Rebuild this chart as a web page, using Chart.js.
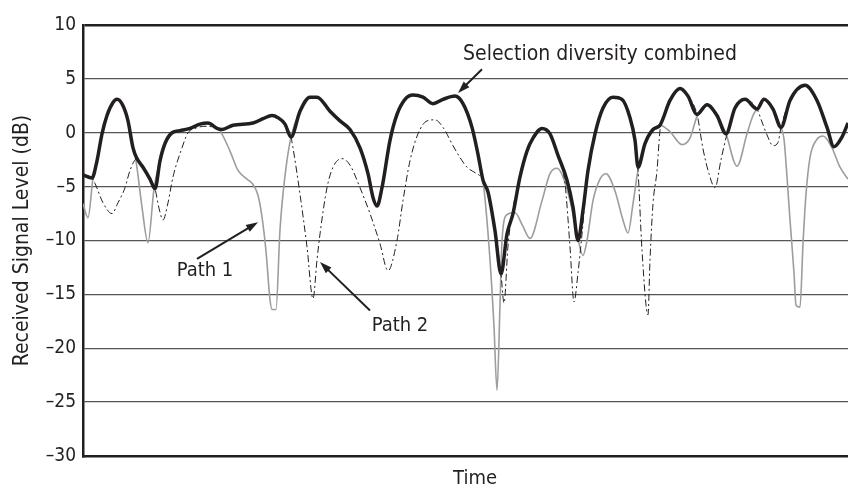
<!DOCTYPE html>
<html>
<head>
<meta charset="utf-8">
<script src="https://cdn.jsdelivr.net/npm/chart.js@4.4.0/dist/chart.umd.min.js"></script>
<style>
  html, body { margin: 0; padding: 0; background: #fff; overflow: hidden; }
  #wrap { width: 867px; height: 491px; }
</style>
</head>
<body>
<div id="wrap"><canvas id="chart" width="867" height="491"></canvas></div>
<script>
// time samples (arbitrary units) and levels in dB
var combinedT = [0, 9, 14, 19, 24, 30, 34, 40, 45, 50, 54, 60, 67, 72, 77, 82, 89, 97, 107, 117, 125, 134, 139, 150, 170, 180, 189, 195, 202, 208,
    217, 227, 234, 247, 257, 267, 277, 285, 290, 294, 299, 307, 314, 322, 330, 340, 350, 360, 372, 380, 389, 395, 400, 405, 412, 418,
    424, 430, 437, 444, 450, 459, 467, 475, 484, 490, 495, 500, 505, 512, 520, 530, 539, 547, 552, 555, 562, 570, 577, 587, 597, 605,
    614, 624, 634, 643, 652, 662, 674, 681, 690, 698, 707, 722, 734, 744, 751, 759, 765];
var combinedDb = [-3.9, -4.2, -2.6, -0.1, 1.6, 2.8, 3.1, 2.5, 1.1, -1.4, -2.4, -3.2, -4.3, -5.2, -2.6, -1.0, 0, 0.2, 0.4, 0.8, 0.9, 0.4, 0.3, 0.7, 0.9, 1.3, 1.6, 1.4, 0.8, -0.4,
    2.0, 3.3, 3.3, 2.0, 1.1, 0.3, -1.4, -3.8, -6.0, -6.8, -5.1, -0.7, 1.7, 3.1, 3.5, 3.3, 2.7, 3.1, 3.4, 2.7, 0.5, -2.0, -4.4, -5.5, -9.1, -13.1,
    -9.4, -7.5, -4.1, -1.7, -0.5, 0.4, -0.1, -2.1, -4.4, -6.9, -10.0, -7.2, -3.5, -0.1, 2.3, 3.3, 3.1, 1.4, -0.7, -3.2, -1.0, 0.3, 0.7, 3.0, 4.1, 3.4,
    1.7, 2.6, 1.6, -0.1, 2.3, 3.1, 2.2, 3.1, 2.2, 0.5, 3.0, 4.4, 3.0, 0.5, -1.3, -0.4, 0.9];

var path1T = [0, 5, 10, 14, 19, 24, 30, 34, 40, 45, 50, 53, 59, 65, 71, 77, 82, 89, 97, 107, 117, 125, 132, 137, 147, 155, 164, 170, 175, 179,
    183, 187, 189, 193, 197, 202, 208, 217, 227, 234, 247, 257, 267, 277, 285, 290, 294, 299, 307, 314, 322, 330, 340, 350, 360, 372, 380,
    389, 395, 400, 407, 411, 414, 417, 419, 424, 432, 439, 447, 459, 467, 474, 480, 487, 494, 500, 504, 510, 517, 523, 532, 540, 545, 550,
    555, 562, 570, 577, 587, 599, 607, 614, 624, 634, 643, 654, 664, 670, 674, 681, 690, 698, 701, 704, 707, 711, 713, 717, 720, 723, 727,
    734, 740, 749, 757, 765];
var path1Db = [-6.6, -7.9, -4.2, -2.6, -0.1, 1.6, 2.8, 3.1, 2.5, 1.1, -1.4, -2.6, -6.9, -10.2, -5.2, -2.6, -1.0, 0, 0.2, 0.4, 0.8, 0.9, 0.6, 0.2, -1.7, -3.5, -4.3, -4.8, -5.8, -7.8,
    -11, -15.5, -16.4, -16.4, -9, -4, -0.4, 2.0, 3.3, 3.3, 2.0, 1.1, 0.3, -1.4, -3.8, -6.0, -6.8, -5.1, -0.7, 1.7, 3.1, 3.5, 3.3, 2.7, 3.1, 3.4, 2.7,
    0.5, -2.0, -4.4, -11.8, -18, -23.9, -16, -10, -7.6, -7.4, -8.5, -9.8, -6.3, -3.8, -3.3, -4.1, -6.3, -9.4, -11.4, -10, -6.3, -4.3, -3.8, -5.4, -8.1, -9.3, -6.6,
    -3.5, -1.0, 0.3, 0.7, 0.1, -1.1, -0.5, 1.5, 2.6, 1.6, -0.1, -3.1, -0.1, 1.6, 2.2, 3.1, 2.2, 0.5, -0.6, -4.1, -8.1, -13, -16, -16.2, -10.3, -5.7, -2.3,
    -0.6, -0.3, -1.4, -3.2, -4.3];

var path2T = [0, 9, 12, 20, 29, 35, 42, 47, 54, 60, 67, 72, 76, 80, 85, 90, 99, 105, 112, 122, 132, 139, 150, 170, 180, 189, 195, 202, 208, 210,
    217, 224, 230, 234, 237, 244, 250, 259, 267, 277, 287, 297, 305, 314, 320, 327, 335, 344, 352, 360, 370, 377, 384, 392, 397, 400, 405,
    412, 418, 421, 425, 430, 437, 444, 450, 459, 467, 475, 482, 487, 491, 495, 499, 505, 512, 520, 530, 539, 547, 552, 555, 559, 565, 567,
    570, 574, 577, 580, 587, 597, 605, 614, 620, 626, 632, 638, 644, 652, 662, 674, 679, 684, 690, 695, 698, 707, 722, 734, 744, 751, 759, 765];
var path2Db = [-3.9, -4.2, -4.7, -6.5, -7.5, -6.5, -5.1, -3.5, -2.4, -3.2, -4.3, -5.2, -7.0, -8.1, -6.5, -4.1, -1.4, 0, 0.4, 0.6, 0.5, 0.3, 0.7, 0.9, 1.3, 1.6, 1.4, 0.8, -0.4, -1.4,
    -5.7, -10.6, -15.4, -11.8, -9.4, -5.1, -3.2, -2.4, -3.0, -5.1, -7.5, -10.3, -12.8, -10, -6.3, -2.6, -0.1, 1.1, 1.2, 0.5, -1.2, -2.3, -3.2, -3.7, -4.0, -4.4, -5.5,
    -9.1, -13.1, -15.8, -10.5, -7.0, -4.1, -1.7, -0.5, 0.4, -0.1, -2.1, -4.7, -10.6, -15.7, -13, -9.4, -3.5, -0.1, 2.3, 3.3, 3.1, 1.4, -0.7, -3.5, -10.9, -16.9, -11.8,
    -6.6, -3.5, 0.2, 1.2, 3.0, 4.1, 3.4, 1.7, -1.5, -3.8, -5.1, -2.5, -0.1, 2.3, 3.1, 2.2, 1.0, -0.2, -1.2, -0.9, 0.5, 3.0, 4.4, 3.0, 0.5, -1.3, -0.4, 0.9];

var yTicks = [10, 5, 0, -5, -10, -15, -20, -25, -30];

function pts(t, v) {
    return t.map(function (x, i) { return { x: x, y: v[i] }; });
}

var ink = '#231f20';
var fontFam = "'Liberation Sans Narrow', 'DejaVu Sans Condensed', 'Liberation Sans', sans-serif";

// labels and arrows, placed in data units
var notes = {
    id: 'notes',
    afterDatasetsDraw: function (chart) {
        var ctx = chart.ctx, xs = chart.scales.x, ys = chart.scales.y;
        function px(t) { return xs.getPixelForValue(t); }
        function py(v) { return ys.getPixelForValue(v); }
        function arrow(t0, v0, t1, v1) {
            var x0 = px(t0), y0 = py(v0), x1 = px(t1), y1 = py(v1);
            var a = Math.atan2(y1 - y0, x1 - x0);
            ctx.save();
            ctx.strokeStyle = ink;
            ctx.fillStyle = ink;
            ctx.lineWidth = 2;
            ctx.beginPath();
            ctx.moveTo(x0, y0);
            ctx.lineTo(x1 - 8 * Math.cos(a), y1 - 8 * Math.sin(a));
            ctx.stroke();
            ctx.beginPath();
            ctx.moveTo(x1, y1);
            ctx.lineTo(x1 - 12 * Math.cos(a) + 4 * Math.sin(a), y1 - 12 * Math.sin(a) - 4 * Math.cos(a));
            ctx.lineTo(x1 - 12 * Math.cos(a) - 4 * Math.sin(a), y1 - 12 * Math.sin(a) + 4 * Math.cos(a));
            ctx.closePath();
            ctx.fill();
            ctx.restore();
        }
        function label(s, t, v, size) {
            ctx.save();
            ctx.fillStyle = ink;
            ctx.font = size + 'px ' + fontFam;
            ctx.textAlign = 'center';
            ctx.textBaseline = 'middle';
            ctx.fillText(s, px(t), py(v));
            ctx.restore();
        }
        label('Selection diversity combined', 517, 7.3, 21);
        arrow(399, 5.9, 375, 3.7);
        label('Path 1', 122, -12.8, 20);
        arrow(114, -11.7, 175, -8.3);
        label('Path 2', 317, -17.9, 20);
        arrow(287, -16.5, 237, -12);
    }
};

new Chart(document.getElementById('chart'), {
    type: 'line',
    data: {
        datasets: [{
            label: 'Selection diversity combined',
            data: pts(combinedT, combinedDb),
            borderColor: ink,
            borderWidth: 3.5,
            pointRadius: 0,
            cubicInterpolationMode: 'monotone'
        }, {
            label: 'Path 2',
            data: pts(path2T, path2Db),
            borderColor: ink,
            borderWidth: 1,
            borderDash: [7, 3, 2, 3],
            pointRadius: 0,
            cubicInterpolationMode: 'monotone'
        }, {
            label: 'Path 1',
            data: pts(path1T, path1Db),
            borderColor: '#9d9d9d',
            borderWidth: 1.6,
            pointRadius: 0,
            cubicInterpolationMode: 'monotone'
        }]
    },
    options: {
        responsive: false,
        animation: false,
        layout: { padding: { top: 25, right: 0, bottom: 0, left: 0 } },
        plugins: { legend: { display: false }, tooltip: { enabled: false } },
        scales: {
            x: {
                type: 'linear',
                min: 0,
                max: 784,
                afterFit: function (scale) { scale.height = 35; },
                grid: { display: false, drawTicks: false },
                border: { color: ink, width: 2.5 },
                ticks: { display: false },
                title: {
                    display: true,
                    text: 'Time',
                    color: ink,
                    font: { family: fontFam, size: 20 },
                    padding: { top: 0, bottom: 0 }
                }
            },
            y: {
                min: -30,
                max: 10,
                afterBuildTicks: function (scale) {
                    scale.ticks = yTicks.map(function (v) { return { value: v }; });
                },
                afterFit: function (scale) { scale.width = 83; },
                grid: {
                    drawTicks: false,
                    color: function (c) { return c.tick && c.tick.value === 10 ? ink : '#555555'; },
                    lineWidth: function (c) { return c.tick && c.tick.value === 10 ? 2.5 : 1.3; }
                },
                border: { color: ink, width: 2.5 },
                ticks: {
                    color: ink,
                    padding: 7,
                    font: { family: fontFam, size: 19 },
                    callback: function (v) { return v < 0 ? '\u2013' + Math.abs(v) : String(v); }
                },
                title: {
                    display: true,
                    text: 'Received Signal Level (dB)',
                    color: ink,
                    font: { family: fontFam, size: 21 },
                    padding: { top: 10, bottom: 4 }
                }
            }
        }
    },
    plugins: [notes]
});
</script>
</body>
</html>
